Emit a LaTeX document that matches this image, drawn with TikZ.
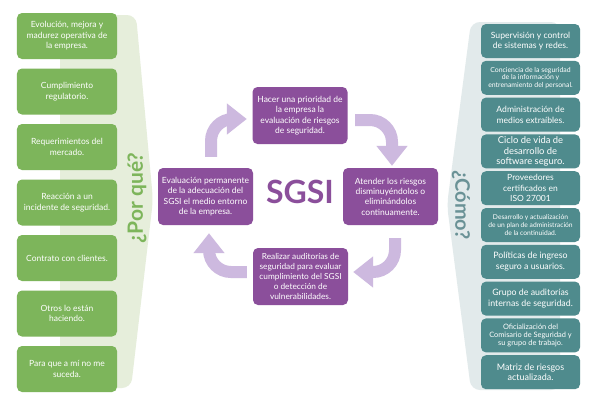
\documentclass[tikz,border=0pt]{standalone}
\usepackage{fontspec}
\setmainfont{Lato}
\usetikzlibrary{arrows.meta,calc}
\definecolor{gbox}{HTML}{7DB55B}
\definecolor{tbox}{HTML}{4F8B8D}
\definecolor{pbox}{HTML}{8B4F9B}
\definecolor{parr}{HTML}{CDB9DF}
\definecolor{gband}{HTML}{E6EEDB}
\definecolor{tband}{HTML}{E2EAEB}
\definecolor{ctext}{HTML}{6A9296}
\newcommand{\fs}[2]{\fontsize{#1bp}{#2bp}\selectfont}
\begin{document}
\begin{tikzpicture}[x=1bp,y=-1bp,
  greenbox/.style={fill=gbox,rounded corners=5bp,text=white,align=center,
    minimum width=100bp,minimum height=46bp,inner sep=1bp,font=\fs{8.5}{10.5}},
  tealbox/.style={fill=tbox,rounded corners=5bp,text=white,align=center,
    minimum width=99bp,minimum height=34bp,inner sep=1bp,font=\fs{8.6}{10.6}},
  purplebox/.style={fill=pbox,rounded corners=5bp,text=white,align=center,
    minimum width=95bp,minimum height=57bp,inner sep=1bp,font=\fs{8.5}{10.3}},
  cyc/.style={draw=parr,line width=12bp,rounded corners=22bp,
    -{Triangle[width=30bp,length=20bp]}}]
\useasboundingbox (0,0) rectangle (607,403);
\fill[white] (0,0) rectangle (607,403);
% background bands
\fill[gband,rounded corners=9bp] (60,15) -- (136,15) -- (153,200) -- (131,388) -- (60,388) -- cycle;
\fill[tband,rounded corners=9bp] (560,22) -- (471,22) -- (447,205) -- (471,390) -- (560,390) -- cycle;
% green boxes
\node[greenbox] (g1) at (67,36) {Evolución, mejora y\\madurez operativa de\\la empresa.};
\node[greenbox] (g2) at (67,91.5) {Cumplimiento\\regulatorio.};
\node[greenbox] (g3) at (67,147) {Requerimientos del\\mercado.};
\node[greenbox] (g4) at (67,202.5) {Reacción a un\\incidente de seguridad.};
\node[greenbox] (g5) at (67,258) {Contrato con clientes.};
\node[greenbox] (g6) at (67,313.5) {Otros lo están\\haciendo.};
\node[greenbox] (g7) at (67,369) {Para que a mí no me\\suceda.};
% teal boxes
\node[tealbox] (t1) at (530.5,41) {Supervisión y control\\de sistemas y redes.};
\node[tealbox,font=\fs{6.9}{7.7}] (t2) at (530.5,77.8) {Conciencia de la seguridad\\de la información y\\entrenamiento del personal.};
\node[tealbox] (t3) at (530.5,114.6) {Administración de\\medios extraíbles.};
\node[tealbox,font=\fs{9.4}{10.7}] (t4) at (530.5,151.4) {Ciclo de vida de\\desarrollo de\\software seguro.};
\node[tealbox,font=\fs{8.5}{10.5}] (t5) at (530.5,188.2) {Proveedores\\certificados en\\ISO 27001};
\node[tealbox,font=\fs{6.7}{7.7}] (t6) at (530.5,225) {Desarrollo y actualización\\de un plan de administración\\de la continuidad.};
\node[tealbox,font=\fs{8.8}{10.6}] (t7) at (530.5,261.8) {Políticas de ingreso\\seguro a usuarios.};
\node[tealbox,font=\fs{8.8}{10.6}] (t8) at (530.5,298.6) {Grupo de auditorías\\internas de seguridad.};
\node[tealbox,font=\fs{7.4}{8.4}] (t9) at (530.5,335.4) {Oficialización del\\Comisario de Seguridad y\\su grupo de trabajo.};
\node[tealbox,font=\fs{9}{10.8}] (t10) at (530.5,372.2) {Matriz de riesgos\\actualizada.};
% side labels
\node[rotate=90,text=gbox,font=\fs{21}{21}\bfseries] (why) at (137,198) {¿Por qué?};
\node[rotate=-90,text=ctext,font=\fs{20}{20}\bfseries] (how) at (461,205) {¿Cómo?};
% purple cycle
\node[purplebox] (pt) at (300,115.5) {Hacer una prioridad de\\la empresa la\\evaluación de riesgos\\de seguridad.};
\node[purplebox] (pr) at (390.5,196.5) {Atender los riesgos\\disminuyéndolos o\\eliminándolos\\continuamente.};
\node[purplebox,font=\fs{8.3}{9.9}] (pb) at (300.5,276.5) {Realizar auditorías de\\seguridad para evaluar\\cumplimiento del SGSI\\o detección de\\vulnerabilidades.};
\node[purplebox] (pl) at (205.5,196.5) {Evaluación permanente\\de la adecuación del\\SGSI el medio entorno\\de la empresa.};
\node[text=pbox,font=\fs{32}{32}\bfseries] (sgsi) at (300,192) {SGSI};
% arrows
\draw[cyc] ([xshift=5.5bp,yshift=11bp]pl.north) |- ([xshift=-5.5bp,yshift=-3.5bp]pt.west);
\draw[cyc] ([xshift=7.5bp,yshift=-4.5bp]pt.east) -| ([xshift=1.5bp,yshift=2bp]pr.north);
\draw[cyc] ([xshift=4.5bp,yshift=-13bp]pr.south) |- ([xshift=5bp,yshift=4.5bp]pb.east);
\draw[cyc] ([xshift=-6bp,yshift=4.5bp]pb.west) -| ([xshift=3.5bp,yshift=-8bp]pl.south);
\end{tikzpicture}
\end{document}
